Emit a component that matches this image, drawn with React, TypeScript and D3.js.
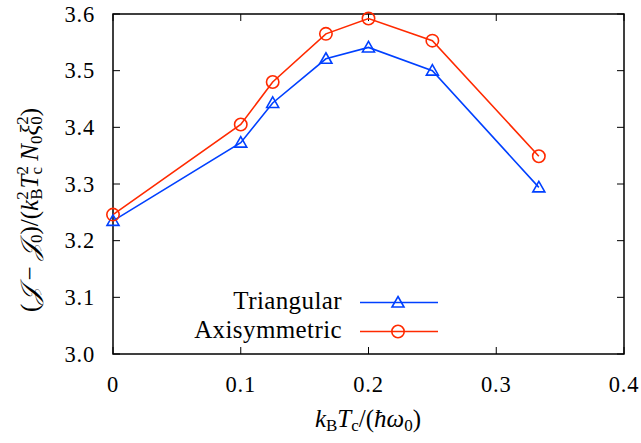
import React from "react";
import * as d3 from "d3";

const xValues = [0, 0.1, 0.125, 1 / 6, 0.2, 0.25, 1 / 3];
const triangular = [3.235, 3.373, 3.443, 3.521, 3.541, 3.5, 3.294];
const axisymmetric = [3.246, 3.405, 3.48, 3.565, 3.592, 3.553, 3.349];
const xTicks = [0, 0.1, 0.2, 0.3, 0.4];
const yTicks = [3.0, 3.1, 3.2, 3.3, 3.4, 3.5, 3.6];
const seriesNames = ["Triangular", "Axisymmetric"];

const W = 641, H = 443;
const M = { left: 113, right: 17, top: 14, bottom: 89 };
const BLUE = "#0040ff";
const RED = "#ff2a00";
const FONT = "Liberation Serif";

function Tri({ x, y, c }: { x: number; y: number; c: string }) {
  const s = 6;
  return (
    <path
      d={`M${x},${y - s}L${x + s},${y + s * 0.75}L${x - s},${y + s * 0.75}Z`}
      fill="none"
      stroke={c}
      strokeWidth={1.6}
    />
  );
}

export default function App() {
  const x = d3.scaleLinear().domain([0, 0.4]).range([M.left, W - M.right]);
  const y = d3.scaleLinear().domain([3.0, 3.6]).range([H - M.bottom, M.top]);
  const line = d3
    .line<[number, number]>()
    .x((d) => x(d[0]))
    .y((d) => y(d[1]));
  const triPts = xValues.map((v, i) => [v, triangular[i]] as [number, number]);
  const axiPts = xValues.map((v, i) => [v, axisymmetric[i]] as [number, number]);
  const x0 = M.left, x1 = W - M.right, y0 = H - M.bottom, y1 = M.top;
  const tl = 7;
  const legX0 = 360, legX1 = 438, legM = 398;
  const legY = [302.5, 331.5];
  const sub = 17;

  return (
    <svg width={W} height={H} style={{ position: "absolute", left: 0, top: 0, fontFamily: FONT }}>
      <rect width={W} height={H} fill="white" />
      {xTicks.map((t) => (
        <g key={"x" + t}>
          <line x1={x(t)} x2={x(t)} y1={y0} y2={y0 - tl} stroke="black" strokeWidth={1} />
          <line x1={x(t)} x2={x(t)} y1={y1} y2={y1 + tl} stroke="black" strokeWidth={1} />
          <text x={x(t)} y={y0 + 38} textAnchor="middle" fontSize={22.5} letterSpacing={0.8} style={{ fontFamily: FONT }}>
            {t === 0 ? "0" : t.toFixed(1)}
          </text>
        </g>
      ))}
      {yTicks.map((t) => (
        <g key={"y" + t}>
          <line x1={x0} x2={x0 + tl} y1={y(t)} y2={y(t)} stroke="black" strokeWidth={1} />
          <line x1={x1} x2={x1 - tl} y1={y(t)} y2={y(t)} stroke="black" strokeWidth={1} />
          <text x={x0 - 18} y={y(t) + 7.5} textAnchor="end" fontSize={22.5} letterSpacing={0.8} style={{ fontFamily: FONT }}>
            {t.toFixed(1)}
          </text>
        </g>
      ))}
      <rect x={x0} y={y1} width={x1 - x0} height={y0 - y1} fill="none" stroke="black" strokeWidth={1.5} />

      <path d={line(triPts) || ""} fill="none" stroke={BLUE} strokeWidth={1.6} />
      <path d={line(axiPts) || ""} fill="none" stroke={RED} strokeWidth={1.6} />
      {triPts.map((p, i) => (
        <Tri key={"t" + i} x={x(p[0])} y={y(p[1])} c={BLUE} />
      ))}
      {axiPts.map((p, i) => (
        <circle key={"c" + i} cx={x(p[0])} cy={y(p[1])} r={6.2} fill="none" stroke={RED} strokeWidth={1.6} />
      ))}

      {seriesNames.map((n, i) => (
        <g key={n}>
          <text x={342} y={legY[i] + 6.5} textAnchor="end" fontSize={25} letterSpacing={0.4} style={{ fontFamily: FONT }}>
            {n}
          </text>
          <line x1={legX0} x2={legX1} y1={legY[i]} y2={legY[i]} stroke={i === 0 ? BLUE : RED} strokeWidth={1.6} />
          {i === 0 ? (
            <Tri x={legM} y={legY[i]} c={BLUE} />
          ) : (
            <circle cx={legM} cy={legY[i]} r={6.2} fill="none" stroke={RED} strokeWidth={1.6} />
          )}
        </g>
      ))}

      <text x={368} y={427} textAnchor="middle" fontSize={25} style={{ fontFamily: FONT }}>
        <tspan fontStyle="italic">k</tspan>
        <tspan fontSize={sub} dy={4}>B</tspan>
        <tspan fontStyle="italic" dy={-4}>T</tspan>
        <tspan fontSize={sub} dy={4}>c</tspan>
        <tspan dy={-4}>/(</tspan>
        <tspan fontStyle="italic">ħω</tspan>
        <tspan fontSize={sub} dy={4}>0</tspan>
        <tspan dy={-4}>)</tspan>
      </text>

      <text transform={`translate(38,210) rotate(-90)`} textAnchor="middle" fontSize={25} style={{ fontFamily: FONT }}>
        <tspan>(</tspan>
        <tspan fontStyle="italic">𝒥</tspan>
        <tspan> − </tspan>
        <tspan fontStyle="italic">𝒥</tspan>
        <tspan fontSize={sub} dy={4}>0</tspan>
        <tspan dy={-4}>)/(</tspan>
        <tspan fontStyle="italic">k</tspan>
        <tspan fontSize={sub} dy={-10}>2</tspan>
        <tspan fontSize={sub} dx={-8.5} dy={14}>B</tspan>
        <tspan fontStyle="italic" dy={-4}>T</tspan>
        <tspan fontSize={sub} dy={-10}>2</tspan>
        <tspan fontSize={sub} dx={-8.5} dy={14}>c</tspan>
        <tspan fontStyle="italic" dy={-4}> N</tspan>
        <tspan fontSize={sub} dy={4}>0</tspan>
        <tspan fontStyle="italic" dy={-4}>ξ</tspan>
        <tspan fontSize={sub} dy={-10}>2</tspan>
        <tspan fontSize={sub} dx={-8.5} dy={14}>0</tspan>
        <tspan dy={-4}>)</tspan>
      </text>
    </svg>
  );
}
